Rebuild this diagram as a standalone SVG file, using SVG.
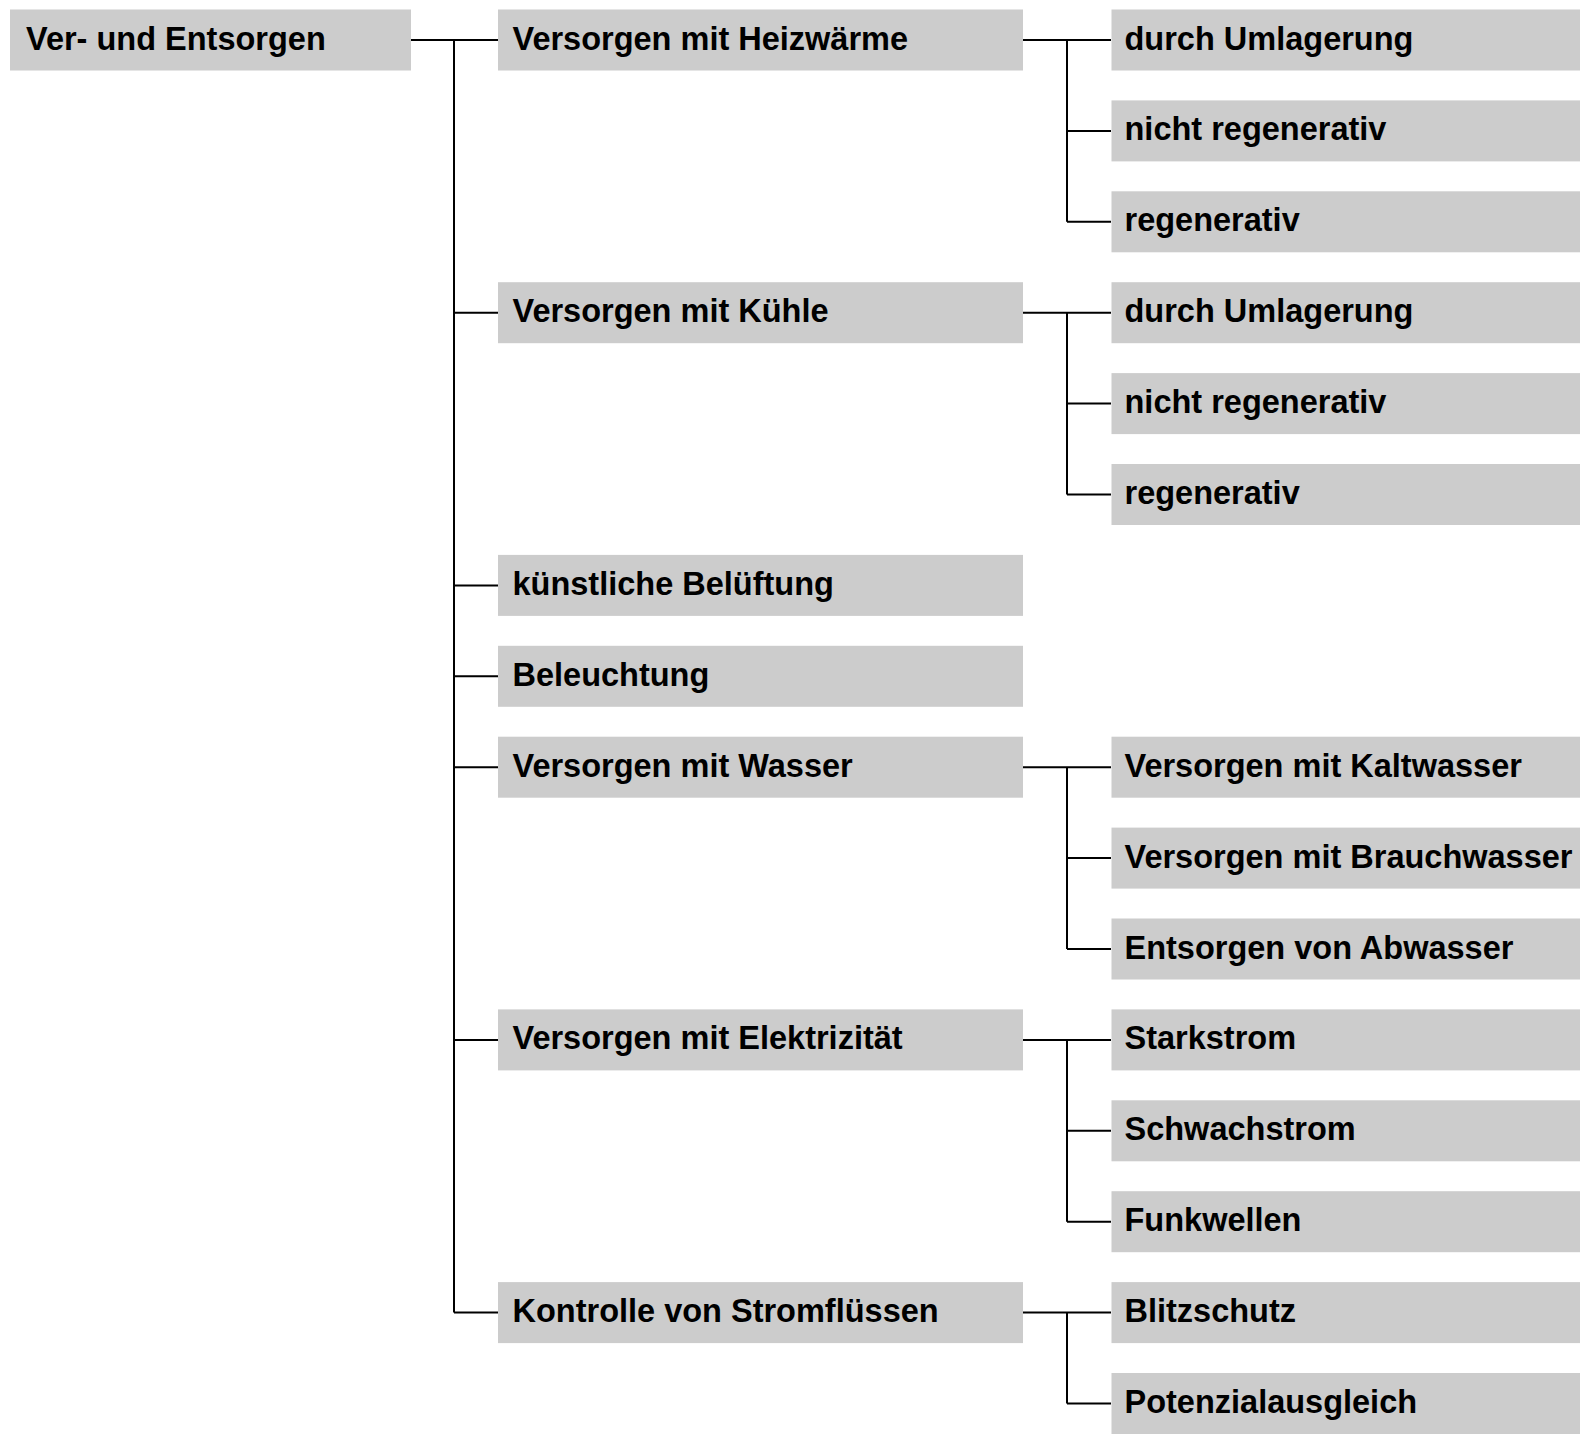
<svg xmlns="http://www.w3.org/2000/svg" width="1580" height="1440" viewBox="0 0 1580 1440">
<style>
rect.b{fill:#cccccc}
text{font-family:"Liberation Sans",Arial,sans-serif;font-weight:bold;font-size:32.5px;fill:#000}
.c{fill:none;stroke:#000;stroke-width:2}
</style>
<rect width="1580" height="1440" fill="#fff"/>
<g id="connectors" class="c">
<path d="M411 40H498M454 40V1312.6M454 312.7H498M454 585.4H498M454 676.3H498M454 767.2H498M454 1039.9H498M454 1312.6H498"/>
<path d="M1023 40H1111M1067 40V221.8M1067 130.9H1111M1067 221.8H1111"/>
<path d="M1023 312.7H1111M1067 312.7V494.5M1067 403.6H1111M1067 494.5H1111"/>
<path d="M1023 767.2H1111M1067 767.2V949M1067 858.1H1111M1067 949H1111"/>
<path d="M1023 1039.9H1111M1067 1039.9V1221.7M1067 1130.8H1111M1067 1221.7H1111"/>
<path d="M1023 1312.6H1111M1067 1312.6V1403.5M1067 1403.5H1111"/>
</g>
<g id="root"><rect class="b" x="10" y="9.5" width="401" height="61"/><text x="26" y="49.5">Ver- und Entsorgen</text></g>
<g id="heiz"><rect class="b" x="498" y="9.5" width="525" height="61"/><text x="512.5" y="49.5">Versorgen mit Heizwärme</text></g>
<g id="kuehle"><rect class="b" x="498" y="282.2" width="525" height="61"/><text x="512.5" y="322.2">Versorgen mit Kühle</text></g>
<g id="lueftung"><rect class="b" x="498" y="554.9" width="525" height="61"/><text x="512.5" y="594.9">künstliche Belüftung</text></g>
<g id="beleuchtung"><rect class="b" x="498" y="645.8" width="525" height="61"/><text x="512.5" y="685.8">Beleuchtung</text></g>
<g id="wasser"><rect class="b" x="498" y="736.7" width="525" height="61"/><text x="512.5" y="776.7">Versorgen mit Wasser</text></g>
<g id="elektr"><rect class="b" x="498" y="1009.4" width="525" height="61"/><text x="512.5" y="1049.4">Versorgen mit Elektrizität</text></g>
<g id="strom"><rect class="b" x="498" y="1282.1" width="525" height="61"/><text x="512.5" y="1322.1">Kontrolle von Stromflüssen</text></g>
<g id="h1"><rect class="b" x="1111.5" y="9.5" width="470" height="61"/><text x="1124.5" y="49.5">durch Umlagerung</text></g>
<g id="h2"><rect class="b" x="1111.5" y="100.4" width="470" height="61"/><text x="1124.5" y="140.4">nicht regenerativ</text></g>
<g id="h3"><rect class="b" x="1111.5" y="191.3" width="470" height="61"/><text x="1124.5" y="231.3">regenerativ</text></g>
<g id="k1"><rect class="b" x="1111.5" y="282.2" width="470" height="61"/><text x="1124.5" y="322.2">durch Umlagerung</text></g>
<g id="k2"><rect class="b" x="1111.5" y="373.1" width="470" height="61"/><text x="1124.5" y="413.1">nicht regenerativ</text></g>
<g id="k3"><rect class="b" x="1111.5" y="464" width="470" height="61"/><text x="1124.5" y="504">regenerativ</text></g>
<g id="w1"><rect class="b" x="1111.5" y="736.7" width="470" height="61"/><text x="1124.5" y="776.7">Versorgen mit Kaltwasser</text></g>
<g id="w2"><rect class="b" x="1111.5" y="827.6" width="470" height="61"/><text x="1124.5" y="867.6">Versorgen mit Brauchwasser</text></g>
<g id="w3"><rect class="b" x="1111.5" y="918.5" width="470" height="61"/><text x="1124.5" y="958.5">Entsorgen von Abwasser</text></g>
<g id="e1"><rect class="b" x="1111.5" y="1009.4" width="470" height="61"/><text x="1124.5" y="1049.4">Starkstrom</text></g>
<g id="e2"><rect class="b" x="1111.5" y="1100.3" width="470" height="61"/><text x="1124.5" y="1140.3">Schwachstrom</text></g>
<g id="e3"><rect class="b" x="1111.5" y="1191.2" width="470" height="61"/><text x="1124.5" y="1231.2">Funkwellen</text></g>
<g id="s1"><rect class="b" x="1111.5" y="1282.1" width="470" height="61"/><text x="1124.5" y="1322.1">Blitzschutz</text></g>
<g id="s2"><rect class="b" x="1111.5" y="1373" width="470" height="61"/><text x="1124.5" y="1413">Potenzialausgleich</text></g>
</svg>
